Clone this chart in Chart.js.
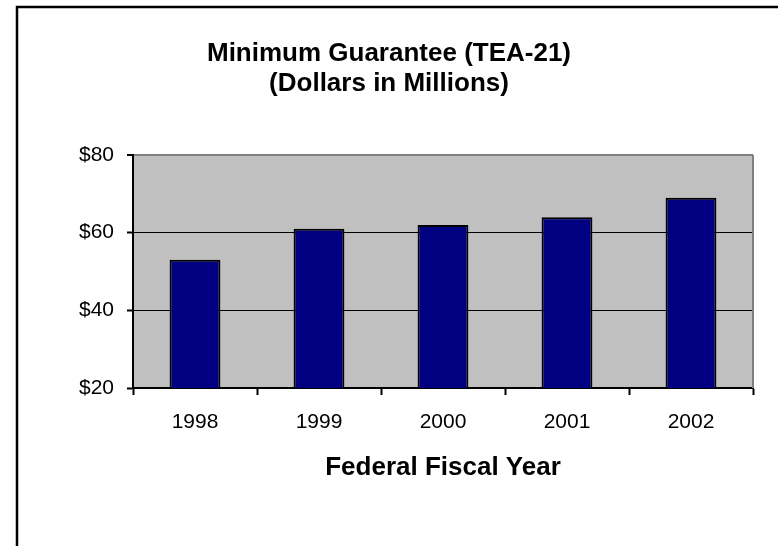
<!DOCTYPE html>
<html>
<head>
<meta charset="utf-8">
<script src="https://cdn.jsdelivr.net/npm/chart.js@4.4.1/dist/chart.umd.min.js"></script>
<style>
  html, body { margin: 0; padding: 0; background: #fff; }
  #wrap { width: 778px; height: 546px; }
</style>
</head>
<body>
<div id="wrap"><canvas id="guarantee_chart" width="778" height="546"></canvas></div>
<script>
var years = ["1998", "1999", "2000", "2001", "2002"];
var guarantee = [53, 61, 62, 64, 69];
var y_min = 20;
var y_max = 80;
var y_step = 20;

var font_family = "'Liberation Sans', Arial, sans-serif";

// grey plot area, grey right edge and the outer frame
var backdrop = {
    id: "backdrop",
    beforeDraw: function(chart) {
        var ctx = chart.ctx, a = chart.chartArea;
        ctx.save();
        ctx.fillStyle = "#fff";
        ctx.fillRect(0, 0, chart.width, chart.height);
        ctx.fillStyle = "#c0c0c0";
        ctx.fillRect(a.left, a.top, a.right - a.left, a.bottom - a.top);
        ctx.strokeStyle = "#000";
        ctx.lineWidth = 2.5;
        ctx.strokeRect(17, 7, 900, 700);
        ctx.restore();
    },
    beforeDatasetsDraw: function(chart) {
        var ctx = chart.ctx, a = chart.chartArea;
        ctx.save();
        ctx.strokeStyle = "#808080";
        ctx.lineWidth = 2;
        ctx.beginPath();
        ctx.moveTo(a.right, a.top);
        ctx.lineTo(a.right, a.bottom);
        ctx.stroke();
        ctx.restore();
    }
};

var config = {
    type: "bar",
    data: {
        labels: years,
        datasets: [{
            label: "Minimum Guarantee",
            data: guarantee,
            backgroundColor: "#000080",
            borderColor: "#000",
            borderWidth: 2,
            categoryPercentage: 1,
            barPercentage: 0.41
        }]
    },
    options: {
        responsive: false,
        devicePixelRatio: 1,
        animation: false,
        layout: {
            padding: { left: 25, right: 25, top: 0, bottom: 62.5 }
        },
        plugins: {
            legend: { display: false },
            tooltip: { enabled: false },
            title: {
                display: true,
                text: ["Minimum Guarantee (TEA-21)", "(Dollars in Millions)"],
                color: "#000",
                font: { family: font_family, size: 26, weight: "bold", lineHeight: 1.154 },
                padding: { top: 38.6, bottom: 56.4 }
            }
        },
        scales: {
            x: {
                afterFit: function(scale) { scale.height = 95.5; },
                grid: {
                    drawOnChartArea: false,
                    tickLength: 7,
                    tickWidth: 2,
                    tickColor: "#000"
                },
                border: { color: "#000", width: 2 },
                ticks: {
                    color: "#000",
                    padding: 15,
                    font: { family: font_family, size: 21 }
                },
                title: {
                    display: true,
                    text: "Federal Fiscal Year",
                    color: "#000",
                    font: { family: font_family, size: 26, weight: "bold", lineHeight: 1.2 },
                    padding: { top: 0, bottom: 0 }
                }
            },
            y: {
                min: y_min,
                max: y_max,
                afterFit: function(scale) { scale.width = 108; },
                grid: {
                    color: function(c) { return c.tick && c.tick.value === y_max ? "#808080" : "#000"; },
                    lineWidth: function(c) { return c.tick && c.tick.value === y_max ? 2 : 1; },
                    tickLength: 6,
                    tickWidth: 2,
                    tickColor: "#000"
                },
                border: { color: "#000", width: 2 },
                ticks: {
                    stepSize: y_step,
                    color: "#000",
                    padding: 13,
                    font: { family: font_family, size: 21 },
                    callback: function(v) { return "$" + v; }
                }
            }
        }
    },
    plugins: [backdrop]
};

var guarantee_chart = new Chart(document.getElementById("guarantee_chart").getContext("2d"), config);
</script>
</body>
</html>
